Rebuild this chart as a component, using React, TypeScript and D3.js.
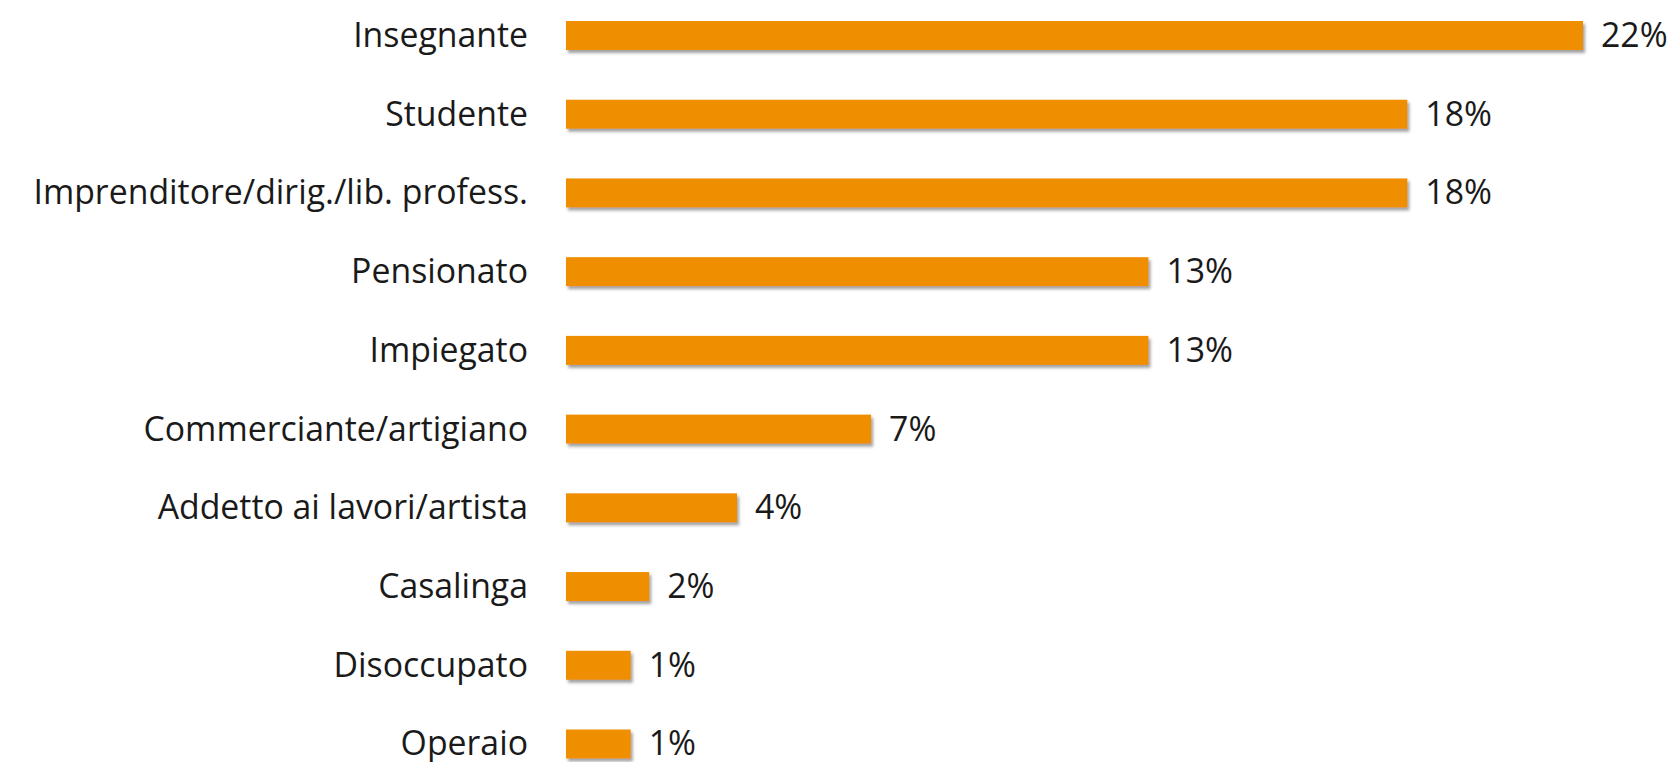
import React from 'react';
import * as d3 from 'd3';

const categories = [
  'Insegnante',
  'Studente',
  'Imprenditore/dirig./lib. profess.',
  'Pensionato',
  'Impiegato',
  'Commerciante/artigiano',
  'Addetto ai lavori/artista',
  'Casalinga',
  'Disoccupato',
  'Operaio',
];
const values = [22.0, 18.2, 18.2, 12.6, 12.6, 6.6, 3.7, 1.8, 1.4, 1.4];

const W = 1672;
const H = 762;

const App: React.FC = () => {
  const x = d3.scaleLinear().domain([0, 22]).range([566, 1583]);
  const y = d3.scalePoint<string>().domain(categories).range([35.5, 744]);
  const barH = 29;
  const fmt = (v: number) => `${Math.round(v)}%`;
  const font = "'Open Sans', sans-serif";

  return (
    <svg width={W} height={H} style={{ position: 'absolute', left: 0, top: 0, background: '#fff' }}>
      <defs>
        <filter id="shadow" x="-5%" y="-30%" width="115%" height="180%">
          <feDropShadow dx="2" dy="3" stdDeviation="1.5" floodColor="#555" floodOpacity="0.55" />
        </filter>
      </defs>
      {categories.map((c, i) => {
        const cy = y(c)!;
        return (
          <g key={c}>
            <rect
              x={x(0)}
              y={cy - barH / 2}
              width={x(values[i]) - x(0)}
              height={barH}
              fill="#EF8F00"
              filter="url(#shadow)"
            />
            <text
              x={x(0) - 38}
              y={cy}
              dy="0.34em"
              textAnchor="end"
              fontFamily={font}
              fontSize={33.8}
              fill="#1a1a1a"
            >
              {c}
            </text>
            <text
              x={x(values[i]) + 18}
              y={cy}
              dy="0.34em"
              fontFamily={font}
              fontSize={33.8}
              fill="#1a1a1a"
            >
              {fmt(values[i])}
            </text>
          </g>
        );
      })}
    </svg>
  );
};

export default App;
